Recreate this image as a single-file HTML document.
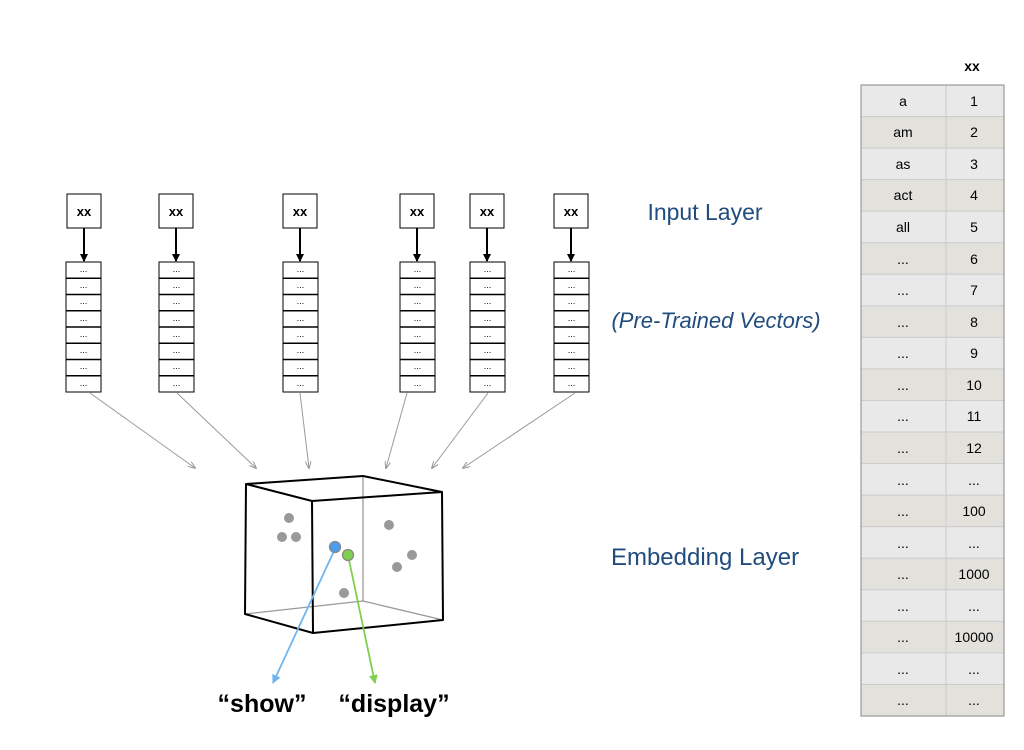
<!DOCTYPE html>
<html><head><meta charset="utf-8"><style>
html,body{margin:0;padding:0;background:#fff;}
svg{display:block;font-family:"Liberation Sans",sans-serif;}
</style></head><body>
<svg width="1024" height="750" viewBox="0 0 1024 750" xmlns="http://www.w3.org/2000/svg">
<defs>
<marker id="ab" markerWidth="8" markerHeight="8" refX="7" refY="4" orient="auto" markerUnits="userSpaceOnUse"><path d="M0,0 L8,4 L0,8 z" fill="#000"/></marker>
<marker id="ag" markerWidth="8" markerHeight="6" refX="7" refY="3" orient="auto" markerUnits="userSpaceOnUse"><path d="M0,0 L8,3 L0,6" fill="none" stroke="#999" stroke-width="1"/></marker>
<marker id="abl" markerWidth="9" markerHeight="9" refX="8" refY="4.5" orient="auto" markerUnits="userSpaceOnUse"><path d="M0,0 L9,4.5 L0,9 z" fill="#6fb6f0"/></marker>
<marker id="agr" markerWidth="9" markerHeight="9" refX="8" refY="4.5" orient="auto" markerUnits="userSpaceOnUse"><path d="M0,0 L9,4.5 L0,9 z" fill="#7ed04f"/></marker>
<g id="stk">
<rect x="0" y="0" width="35" height="130" fill="#fff" stroke="#000" stroke-width="1"/>
<g stroke="#000" stroke-width="1.5">
<line x1="0" y1="16.25" x2="35" y2="16.25"/><line x1="0" y1="32.5" x2="35" y2="32.5"/><line x1="0" y1="48.75" x2="35" y2="48.75"/><line x1="0" y1="65" x2="35" y2="65"/><line x1="0" y1="81.25" x2="35" y2="81.25"/><line x1="0" y1="97.5" x2="35" y2="97.5"/><line x1="0" y1="113.75" x2="35" y2="113.75"/>
</g>
<g font-size="9" text-anchor="middle" fill="#000">
<text x="17.5" y="10">...</text><text x="17.5" y="26">...</text><text x="17.5" y="42">...</text><text x="17.5" y="59">...</text><text x="17.5" y="75">...</text><text x="17.5" y="91">...</text><text x="17.5" y="107">...</text><text x="17.5" y="124">...</text>
</g>
</g>
</defs>

<g fill="#fff" stroke="#000" stroke-width="1">
<rect x="67" y="194" width="34" height="34"/><rect x="159" y="194" width="34" height="34"/><rect x="283" y="194" width="34" height="34"/><rect x="400" y="194" width="34" height="34"/><rect x="470" y="194" width="34" height="34"/><rect x="554" y="194" width="34" height="34"/>
</g>
<g font-size="13" font-weight="bold" text-anchor="middle">
<text x="84" y="216">xx</text><text x="176" y="216">xx</text><text x="300" y="216">xx</text><text x="417" y="216">xx</text><text x="487" y="216">xx</text><text x="571" y="216">xx</text>
</g>
<g stroke="#000" stroke-width="2" marker-end="url(#ab)">
<line x1="84" y1="228" x2="84" y2="261"/><line x1="176" y1="228" x2="176" y2="261"/><line x1="300" y1="228" x2="300" y2="261"/><line x1="417" y1="228" x2="417" y2="261"/><line x1="487" y1="228" x2="487" y2="261"/><line x1="571" y1="228" x2="571" y2="261"/>
</g>
<use href="#stk" x="66" y="262"/><use href="#stk" x="159" y="262"/><use href="#stk" x="283" y="262"/><use href="#stk" x="400" y="262"/><use href="#stk" x="470" y="262"/><use href="#stk" x="554" y="262"/>

<g stroke="#999" stroke-width="1" marker-end="url(#ag)">
<line x1="90" y1="393" x2="195" y2="468"/><line x1="177" y1="393" x2="256" y2="468"/><line x1="300" y1="393" x2="309" y2="468"/><line x1="407" y1="393" x2="386" y2="468"/><line x1="488" y1="393" x2="432" y2="468"/><line x1="575" y1="393" x2="463" y2="468"/>
</g>

<g stroke="#999" stroke-width="1.3" fill="none">
<line x1="363" y1="476" x2="363" y2="601"/>
<polyline points="245,614 363,601 443,620"/>
</g>
<g stroke="#000" stroke-width="2" fill="none" stroke-linejoin="round">
<polyline points="312,501 246,484 363,476 442,492"/>
<polyline points="246,484 245,614 313,633"/>
<polygon points="312,501 442,492 443,620 313,633"/>
</g>
<g fill="#999">
<circle cx="289" cy="518" r="5"/><circle cx="282" cy="537" r="5"/><circle cx="296" cy="537" r="5"/><circle cx="389" cy="525" r="5"/><circle cx="412" cy="555" r="5"/><circle cx="397" cy="567" r="5"/><circle cx="344" cy="593" r="5"/>
</g>
<line x1="334" y1="551" x2="273" y2="683" stroke="#6fb6f0" stroke-width="1.8" marker-end="url(#abl)"/>
<line x1="349" y1="560" x2="375" y2="683" stroke="#7ed04f" stroke-width="1.8" marker-end="url(#agr)"/>
<circle cx="335" cy="547" r="5.5" fill="#4a9ef0" stroke="#888" stroke-width="1.3"/>
<circle cx="348" cy="555" r="5.5" fill="#7ed04f" stroke="#888" stroke-width="1.3"/>

<g font-size="25" font-weight="bold" text-anchor="middle" fill="#000">
<text x="262" y="712">“show”</text><text x="394" y="712">“display”</text>
</g>

<g fill="#214d7e" text-anchor="middle">
<text x="705" y="220" font-size="23">Input Layer</text>
<text x="716" y="328" font-style="italic" font-size="22">(Pre-Trained Vectors)</text>
<text x="705" y="565" font-size="24">Embedding Layer</text>
</g>

<text x="972" y="71" font-size="14" font-weight="bold" text-anchor="middle">xx</text>
<g stroke="#ccc" stroke-width="1">
<rect x="861" y="85" width="143" height="31.55" fill="#e9e9e9"/>
<rect x="861" y="116.55" width="143" height="31.55" fill="#e2e1dc"/>
<rect x="861" y="148.1" width="143" height="31.55" fill="#e9e9e9"/>
<rect x="861" y="179.65" width="143" height="31.55" fill="#e2e1dc"/>
<rect x="861" y="211.2" width="143" height="31.55" fill="#e9e9e9"/>
<rect x="861" y="242.75" width="143" height="31.55" fill="#e2e1dc"/>
<rect x="861" y="274.3" width="143" height="31.55" fill="#e9e9e9"/>
<rect x="861" y="305.85" width="143" height="31.55" fill="#e2e1dc"/>
<rect x="861" y="337.4" width="143" height="31.55" fill="#e9e9e9"/>
<rect x="861" y="368.95" width="143" height="31.55" fill="#e2e1dc"/>
<rect x="861" y="400.5" width="143" height="31.55" fill="#e9e9e9"/>
<rect x="861" y="432.05" width="143" height="31.55" fill="#e2e1dc"/>
<rect x="861" y="463.6" width="143" height="31.55" fill="#e9e9e9"/>
<rect x="861" y="495.15" width="143" height="31.55" fill="#e2e1dc"/>
<rect x="861" y="526.7" width="143" height="31.55" fill="#e9e9e9"/>
<rect x="861" y="558.25" width="143" height="31.55" fill="#e2e1dc"/>
<rect x="861" y="589.8" width="143" height="31.55" fill="#e9e9e9"/>
<rect x="861" y="621.35" width="143" height="31.55" fill="#e2e1dc"/>
<rect x="861" y="652.9" width="143" height="31.55" fill="#e9e9e9"/>
<rect x="861" y="684.45" width="143" height="31.55" fill="#e2e1dc"/>
<line x1="946" y1="85" x2="946" y2="716"/>
</g>
<rect x="861" y="85" width="143" height="631" fill="none" stroke="#999" stroke-width="1.2"/>
<g font-size="14" text-anchor="middle" fill="#000">
<text x="903" y="106">a</text><text x="974" y="106">1</text>
<text x="903" y="137">am</text><text x="974" y="137">2</text>
<text x="903" y="169">as</text><text x="974" y="169">3</text>
<text x="903" y="200">act</text><text x="974" y="200">4</text>
<text x="903" y="232">all</text><text x="974" y="232">5</text>
<text x="903" y="264">...</text><text x="974" y="264">6</text>
<text x="903" y="295">...</text><text x="974" y="295">7</text>
<text x="903" y="327">...</text><text x="974" y="327">8</text>
<text x="903" y="358">...</text><text x="974" y="358">9</text>
<text x="903" y="390">...</text><text x="974" y="390">10</text>
<text x="903" y="421">...</text><text x="974" y="421">11</text>
<text x="903" y="453">...</text><text x="974" y="453">12</text>
<text x="903" y="485">...</text><text x="974" y="485">...</text>
<text x="903" y="516">...</text><text x="974" y="516">100</text>
<text x="903" y="548">...</text><text x="974" y="548">...</text>
<text x="903" y="579">...</text><text x="974" y="579">1000</text>
<text x="903" y="611">...</text><text x="974" y="611">...</text>
<text x="903" y="642">...</text><text x="974" y="642">10000</text>
<text x="903" y="674">...</text><text x="974" y="674">...</text>
<text x="903" y="705">...</text><text x="974" y="705">...</text>
</g>
</svg>
</body></html>
